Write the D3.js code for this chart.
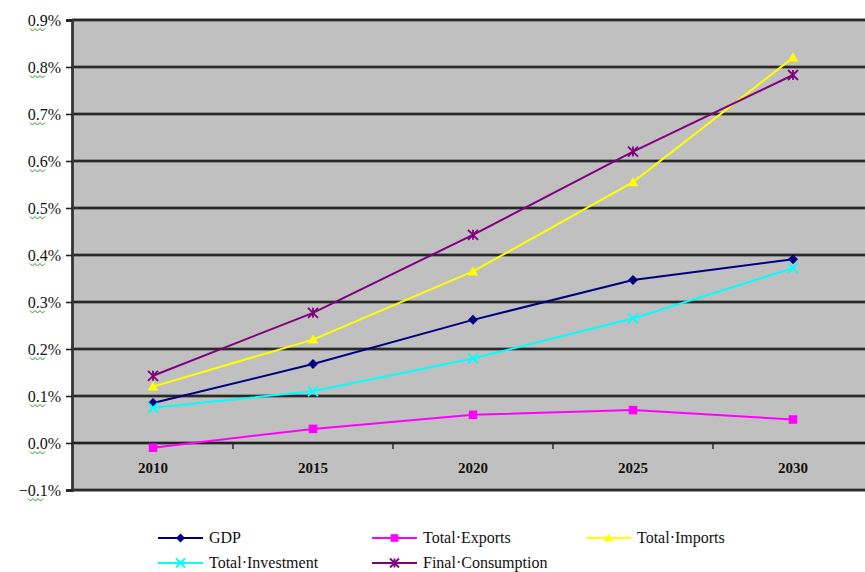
<!DOCTYPE html>
<html>
<head>
<meta charset="utf-8">
<script src="https://cdn.jsdelivr.net/npm/d3@7"></script>
<style>
  html, body { margin: 0; padding: 0; background: #fff; }
  svg { display: block; }
  text { font-family: "Liberation Serif", "DejaVu Serif", serif; }
</style>
</head>
<body>
<svg id="chart" width="865" height="572"></svg>
<script>
// Categories and series (growth deviation, as fractions)
const years = ["2010", "2015", "2020", "2025", "2030"];
const gdp          = [0.00085, 0.00168, 0.00262, 0.00347, 0.00391];
const exportsTotal = [-0.0001, 0.0003, 0.0006, 0.0007, 0.0005];
const importsTotal = [0.0012, 0.0022, 0.00365, 0.00555, 0.0082];
const investment   = [0.00075, 0.0011, 0.0018, 0.00265, 0.00372];
const consumption  = [0.00143, 0.00277, 0.00443, 0.0062, 0.00783];
const yTicks = [-0.001, 0, 0.001, 0.002, 0.003, 0.004, 0.005, 0.006, 0.007, 0.008, 0.009];
const seriesNames = ["GDP", "Total\u00B7Exports", "Total\u00B7Imports", "Total\u00B7Investment", "Final\u00B7Consumption"];

const series = [
  { name: seriesNames[0], values: gdp,          color: "#000080", marker: "diamond" },
  { name: seriesNames[1], values: exportsTotal, color: "#ff00ff", marker: "square" },
  { name: seriesNames[2], values: importsTotal, color: "#ffff00", marker: "triangle" },
  { name: seriesNames[3], values: investment,   color: "#00ffff", marker: "cross" },
  { name: seriesNames[4], values: consumption,  color: "#800080", marker: "star" }
];

const serif = '"Liberation Serif", "DejaVu Serif", serif';
const svg = d3.select("#chart");
const plot = { left: 72, top: 19, right: 873, bottom: 490 };

const x = d3.scaleBand().domain(years).range([73, 873]).padding(0);
const y = d3.scaleLinear().domain([-0.001, 0.009]).range([plot.bottom, plot.top + 1]);

// Plot background
svg.append("rect")
  .attr("x", plot.left).attr("y", plot.top)
  .attr("width", plot.right - plot.left).attr("height", plot.bottom - plot.top)
  .attr("fill", "#c0c0c0");

// Horizontal gridlines
const grid = svg.append("g");
grid.selectAll("line.halo").data(yTicks).join("line")
  .attr("x1", plot.left).attr("x2", 865)
  .attr("y1", d => y(d)).attr("y2", d => y(d))
  .attr("stroke", "#777").attr("stroke-width", 3.4);
grid.selectAll("line.core").data(yTicks).join("line")
  .attr("x1", plot.left).attr("x2", 865)
  .attr("y1", d => y(d)).attr("y2", d => y(d))
  .attr("stroke", "#111").attr("stroke-width", 1.5);

// Y axis
const yAxis = svg.append("g")
  .attr("transform", `translate(${plot.left},0)`)
  .call(d3.axisLeft(y).tickValues(yTicks).tickFormat(d3.format(".1%")).tickSize(6).tickPadding(5));
yAxis.select(".domain").attr("stroke", "#333").attr("stroke-width", 2.8);
yAxis.selectAll(".tick line").attr("stroke", "#222").attr("stroke-width", 1.6);
yAxis.selectAll(".tick text")
  .style("font-family", serif)
  .style("font-size", "16px").attr("fill", "#111");

// Green wavy underline beneath each tick label's decimal part
yAxis.selectAll(".tick").append("path")
  .attr("d", d => {
    const x0 = d < 0 ? -44 : -42, y0 = 8;
    let p = `M${x0},${y0}`;
    for (let i = 0; i < 6; i++) p += ` l2.5,${i % 2 ? -2.5 : 2.5}`;
    return p;
  })
  .attr("fill", "none").attr("stroke", "#2a9d2a").attr("stroke-width", 1);

// X axis along zero with ticks between categories
const x0 = y(0);
const xg = svg.append("g");
xg.append("line")
  .attr("x1", plot.left).attr("x2", 865).attr("y1", x0).attr("y2", x0)
  .attr("stroke", "#222").attr("stroke-width", 1.8);
xg.selectAll("line.tk").data(years.slice(1)).join("line")
  .attr("x1", d => x(d)).attr("x2", d => x(d))
  .attr("y1", x0).attr("y2", x0 + 6)
  .attr("stroke", "#222").attr("stroke-width", 1.4);
xg.selectAll("text").data(years).join("text")
  .attr("x", d => x(d) + x.bandwidth() / 2)
  .attr("y", x0 + 30)
  .attr("text-anchor", "middle")
  .style("font-family", serif)
  .style("font-size", "15px").attr("font-weight", "bold").attr("fill", "#111")
  .text(d => d);

// Marker drawing
function drawMarker(g, type, color, size) {
  const s = size;
  if (type === "diamond") {
    g.append("path").attr("d", `M0,${-s} L${s},0 L0,${s} L${-s},0 Z`).attr("fill", color);
  } else if (type === "square") {
    g.append("rect").attr("x", -s * 0.85).attr("y", -s * 0.85)
      .attr("width", s * 1.7).attr("height", s * 1.7).attr("fill", color);
  } else if (type === "triangle") {
    g.append("path").attr("d", `M0,${-s * 1.05} L${s * 1.05},${s * 0.8} L${-s * 1.05},${s * 0.8} Z`).attr("fill", color);
  } else if (type === "cross") {
    g.append("path").attr("d", `M${-s},${-s} L${s},${s} M${-s},${s} L${s},${-s}`)
      .attr("stroke", color).attr("stroke-width", 1.8);
  } else if (type === "star") {
    g.append("path").attr("d", `M${-s},${-s} L${s},${s} M${-s},${s} L${s},${-s} M0,${-s} L0,${s}`)
      .attr("stroke", color).attr("stroke-width", 1.8);
  }
}

const cx = d => x(d) + x.bandwidth() / 2;
const line = d3.line().x((v, i) => cx(years[i])).y(v => y(v));

const lines = svg.append("g");
series.forEach(s => {
  lines.append("path")
    .attr("d", line(s.values))
    .attr("fill", "none").attr("stroke", s.color).attr("stroke-width", 2);
});
series.forEach(s => {
  s.values.forEach((v, i) => {
    const g = lines.append("g").attr("transform", `translate(${cx(years[i])},${y(v)})`);
    drawMarker(g, s.marker, s.color, 5);
  });
});

// Legend
const legendPos = [
  { x: 158, y: 538 }, { x: 372, y: 538 }, { x: 586, y: 538 },
  { x: 158, y: 563 }, { x: 372, y: 563 }
];
const legend = svg.append("g");
series.forEach((s, i) => {
  const p = legendPos[i];
  const g = legend.append("g").attr("transform", `translate(${p.x},${p.y})`);
  g.append("line").attr("x1", 0).attr("x2", 45).attr("y1", 0).attr("y2", 0)
    .attr("stroke", s.color).attr("stroke-width", 2);
  const m = g.append("g").attr("transform", "translate(22.5,0)");
  drawMarker(m, s.marker, s.color, 4.5);
  g.append("text").attr("x", 51).attr("y", 5)
    .style("font-family", serif)
    .style("font-size", "16px").attr("fill", "#111")
    .text(s.name);
});
</script>
</body>
</html>
